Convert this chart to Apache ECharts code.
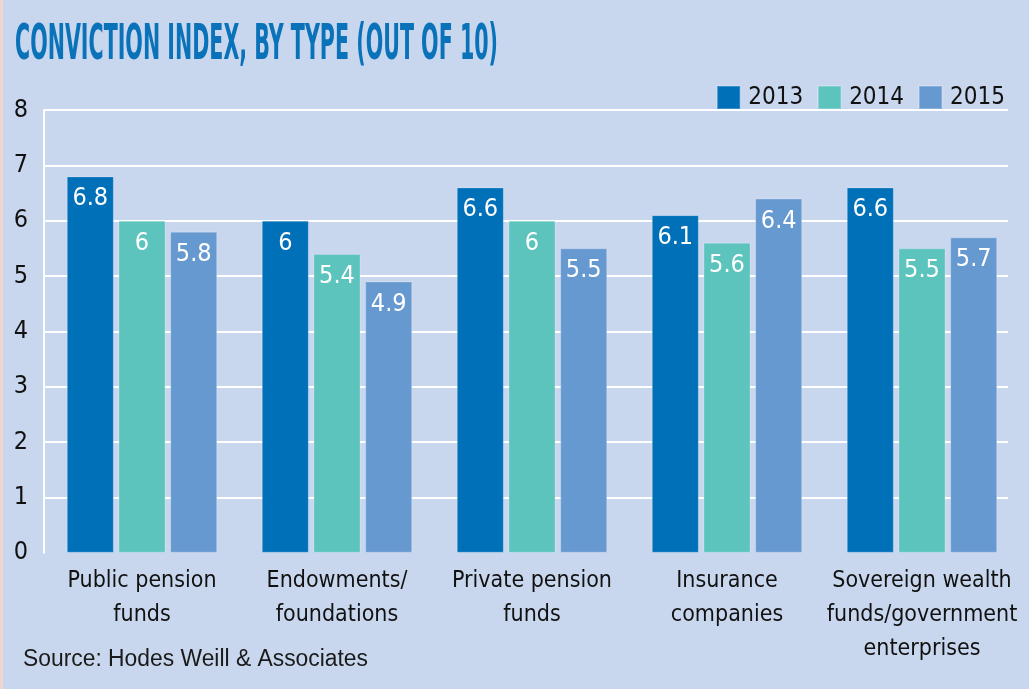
<!DOCTYPE html>
<html>
<head>
<meta charset="utf-8">
<script src="https://cdn.jsdelivr.net/npm/echarts@6/dist/echarts.min.js"></script>
<style>
html,body{margin:0;padding:0;background:#c9d7ee;}
#chart{width:1029px;height:689px;}
</style>
</head>
<body>
<div id="chart"></div>
<script>
const categories = ['Public pension\nfunds', 'Endowments/\nfoundations', 'Private pension\nfunds', 'Insurance\ncompanies', 'Sovereign wealth\nfunds/government\nenterprises'];
const seriesNames = ['2013', '2014', '2015'];
const values2013 = [6.8, 6, 6.6, 6.1, 6.6];
const values2014 = [6, 5.4, 6, 5.6, 5.5];
const values2015 = [5.8, 4.9, 5.5, 6.4, 5.7];
const yTicks = [0, 1, 2, 3, 4, 5, 6, 7, 8];
const titleText = 'CONVICTION INDEX, BY TYPE (OUT OF 10)';
const sourceText = 'Source: Hodes Weill & Associates';

const colors = ['#0070b9', '#5cc4bd', '#6799d1'];
const NARROW = '"Liberation Sans Narrow", "DejaVu Sans Condensed", "Roboto Condensed", "Arial Narrow", sans-serif';

function measure(font, text) {
  const c = document.createElement('canvas').getContext('2d');
  c.font = font;
  return c.measureText(text).width;
}
const titleFont = 'bold 50px ' + NARROW;
const titleScale = 483 / measure(titleFont, titleText);
const srcFont = '23px "Liberation Sans", "DejaVu Sans", sans-serif';
const srcScale = 345 / measure(srcFont, sourceText);

const chart = echarts.init(document.getElementById('chart'));
const dataSets = [values2013, values2014, values2015];

const option = {
  backgroundColor: '#c9d7ee',
  animation: false,
  color: colors,
  textStyle: { fontFamily: NARROW },
  graphic: [
    { type: 'rect', shape: { x: 0, y: 0, width: 3, height: 689 }, style: { fill: '#f1d6cf' }, silent: true },
    { type: 'text', x: 15, y: 46, scaleX: titleScale, style: { text: titleText, font: titleFont, fill: '#0a72b9', verticalAlign: 'middle' } },
    { type: 'text', x: 23, y: 660, scaleX: srcScale, style: { text: sourceText, font: srcFont, fill: '#1a1a1a', verticalAlign: 'middle' } }
  ],
  legend: {
    right: 19, top: 80, width: 400,
    itemWidth: 23, itemHeight: 23, itemGap: 14,
    icon: 'rect',
    data: seriesNames,
    textStyle: { fontFamily: NARROW, fontSize: 24, color: '#111', padding: [0, 0, 0, 3] }
  },
  grid: [
    { left: 44.5, right: 9.5, top: 110, bottom: 136.3, outerBoundsMode: 'none', containLabel: false },
    { left: 44, right: 21, top: 110, bottom: 136.3, outerBoundsMode: 'none', containLabel: false }
  ],
  xAxis: [
    { type: 'category', gridIndex: 0, data: categories,
      axisLine: { show: false }, axisTick: { show: false },
      axisLabel: { fontFamily: NARROW, fontSize: 23, color: '#111', lineHeight: 34, margin: 11, interval: 0 } },
    { type: 'category', gridIndex: 1, data: categories, show: false }
  ],
  yAxis: [
    { type: 'value', gridIndex: 0, min: 0, max: 8, interval: 1, show: false },
    { type: 'value', gridIndex: 1, min: yTicks[0], max: yTicks[yTicks.length - 1], interval: 1,
      axisLine: { show: true, lineStyle: { color: '#ffffff', width: 2 } },
      axisTick: { show: false },
      axisLabel: { fontFamily: NARROW, fontSize: 25, color: '#111', margin: 16 },
      splitLine: { show: true, lineStyle: { color: ['rgba(0,0,0,0)', '#ffffff', '#ffffff', '#ffffff', '#ffffff', '#ffffff', '#ffffff', '#ffffff', '#ffffff'], width: 2 } } }
  ],
  series: seriesNames.map((name, i) => ({
    name: name,
    type: 'bar',
    xAxisIndex: 0, yAxisIndex: 0,
    data: dataSets[i],
    barWidth: 47,
    barGap: '10%',
    z: 3,
    itemStyle: { color: colors[i], borderColor: 'rgba(255,255,255,0.22)', borderWidth: 1 },
    label: {
      show: true, position: 'insideTop', distance: 10,
      fontFamily: NARROW, fontSize: 25, color: '#ffffff'
    }
  }))
};
chart.setOption(option);
</script>
</body>
</html>
